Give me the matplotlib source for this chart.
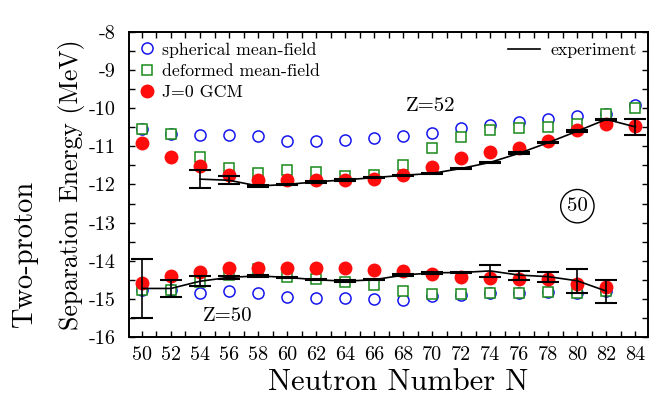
import numpy as np
import matplotlib
matplotlib.use("Agg")
import matplotlib.pyplot as plt

plt.rcParams['font.family'] = 'serif'
plt.rcParams['font.serif'] = ['cmr10', 'DejaVu Serif']
plt.rcParams['mathtext.fontset'] = 'cm'
plt.rcParams['axes.unicode_minus'] = False

nan = np.nan

# neutron numbers
N = np.arange(50, 86, 2)

# Z=52 (upper group)
sph52 = [-10.55, -10.67, -10.69, -10.69, -10.73, -10.85, -10.85, -10.83, -10.79,
         -10.74, -10.65, -10.53, -10.45, -10.36, -10.29, -10.20, -10.14, -9.92]
def52 = [-10.55, -10.67, -11.27, -11.57, -11.71, -11.62, -11.66, -11.78, -11.76,
         -11.48, -11.05, -10.76, -10.58, -10.52, -10.49, -10.40, -10.14, -10.00]
gcm52 = [-10.91, -11.29, -11.51, -11.75, -11.87, -11.89, -11.89, -11.89, -11.85,
         -11.75, -11.53, -11.31, -11.15, -11.05, -10.87, -10.58, -10.42, -10.46]
exp52 = [nan, nan, -11.86, -11.89, -12.04, -12.00, -11.93, -11.88, -11.82,
         -11.76, -11.71, -11.58, -11.42, -11.18, -10.90, -10.60, -10.29, -10.49]
err52 = [nan, nan, 0.23, 0.10, 0.02, 0.02, 0.02, 0.02, 0.02,
         0.02, 0.02, 0.02, 0.02, 0.02, 0.02, 0.02, 0.02, 0.20]

# Z=50 (lower group)
sph50 = [-14.76, -14.78, -14.84, -14.80, -14.86, -14.95, -14.99, -14.99, -15.00,
         -15.02, -14.93, -14.90, -14.86, -14.84, -14.82, -14.84, -14.80, nan]
def50 = [-14.76, -14.78, -14.56, -14.38, -14.23, -14.42, -14.49, -14.56, -14.65,
         -14.80, -14.88, -14.87, -14.85, -14.84, -14.82, -14.84, -14.80, nan]
gcm50 = [-14.58, -14.40, -14.29, -14.18, -14.20, -14.18, -14.20, -14.20, -14.25,
         -14.27, -14.35, -14.42, -14.45, -14.47, -14.49, -14.60, -14.70, nan]
exp50 = [-14.73, -14.73, -14.54, -14.44, -14.40, -14.44, -14.50, -14.54, -14.50,
         -14.38, -14.32, -14.31, -14.27, -14.38, -14.42, -14.53, -14.80, nan]
err50 = [0.78, 0.22, 0.13, 0.04, 0.02, 0.02, 0.02, 0.02, 0.02,
         0.02, 0.02, 0.02, 0.15, 0.12, 0.13, 0.31, 0.30, nan]

yticks = [-8, -9, -10, -11, -12, -13, -14, -15, -16]
ytick_labels = ["-8", "-9", "-10", "-11", "-12", "-13", "-14", "-15", "-16"]


def main():
    fig = plt.figure(figsize=(6.51, 4.01), dpi=100)
    ax = fig.add_axes([0.198, 0.160, 0.797, 0.760])

    for sph, dfm, gcm, ex, er in [(sph52, def52, gcm52, exp52, err52),
                                  (sph50, def50, gcm50, exp50, err50)]:
        ax.plot(N, sph, 'o', mfc='none', mec='#1515ee', ms=8, mew=1.1, zorder=2)
        ax.plot(N, dfm, 's', mfc='white', mec='#1a8a1a', ms=7.5, mew=1.1, zorder=3)
        ax.plot(N, gcm, 'o', color='#ff0d0d', ms=9, zorder=4)
        ax.plot(N, ex, '-', color='black', lw=1.2, zorder=5)
        ax.errorbar(N, ex, yerr=er, fmt='none', ecolor='black', elinewidth=1.2,
                    capsize=8, capthick=1.5, zorder=6)

    h1, = ax.plot([], [], 'o', mfc='none', mec='#1515ee', ms=8, mew=1.1)
    h2, = ax.plot([], [], 's', mfc='none', mec='#1a8a1a', ms=7.5, mew=1.1)
    h3, = ax.plot([], [], 'o', color='#ff0d0d', ms=9)
    h4, = ax.plot([], [], '-', color='black', lw=1.2)

    leg1 = ax.legend([h1, h2, h3], ["spherical mean-field", "deformed mean-field", "J=0 GCM"],
                     loc='upper left', frameon=False, fontsize=12.8, handlelength=0.9,
                     handletextpad=0.4, labelspacing=0.33, borderaxespad=0.15)
    ax.add_artist(leg1)
    ax.legend([h4], ["experiment"], loc='upper right', frameon=False, fontsize=12.8,
              handlelength=1.8, handletextpad=0.6, borderaxespad=0.2)

    ax.text(68.2, -9.95, "Z=52", fontsize=15, va='center', ha='left')
    ax.text(54.2, -15.45, "Z=50", fontsize=15, va='center', ha='left')
    ax.text(80.0, -12.57, "50", fontsize=15, va='center', ha='center',
            bbox=dict(boxstyle='circle,pad=0.3', fc='white', ec='black', lw=1.0))

    ax.set_xlim(49.1, 84.85)
    ax.set_ylim(-16, -8)
    ax.set_xticks(N)
    ax.set_xticklabels([str(n) for n in N], fontsize=14.5)
    ax.set_xticks(np.arange(51, 85, 2), minor=True)
    ax.set_yticks(yticks)
    ax.set_yticklabels(ytick_labels, fontsize=14.5)
    ax.set_yticks(np.arange(-15.5, -8, 1.0), minor=True)
    ax.tick_params(which='both', direction='in', top=True, right=True, length=4, width=1.0)
    ax.tick_params(axis='x', which='major', pad=7)
    ax.tick_params(axis='y', which='major', pad=9.5)
    for s in ax.spines.values():
        s.set_linewidth(1.4)

    ax.set_xlabel("Neutron Number N", fontsize=22)
    ax.xaxis.set_label_coords(0.518, -0.148)
    ax.xaxis.label.set_va('center')
    ax.set_ylabel("Separation Energy (MeV)", fontsize=18.5, labelpad=3)
    fig.text(0.038, 0.365, "Two-proton", fontsize=20.5, rotation=90, ha='center', va='center')

    fig.savefig("out.png", dpi=100)


if __name__ == "__main__":
    main()
